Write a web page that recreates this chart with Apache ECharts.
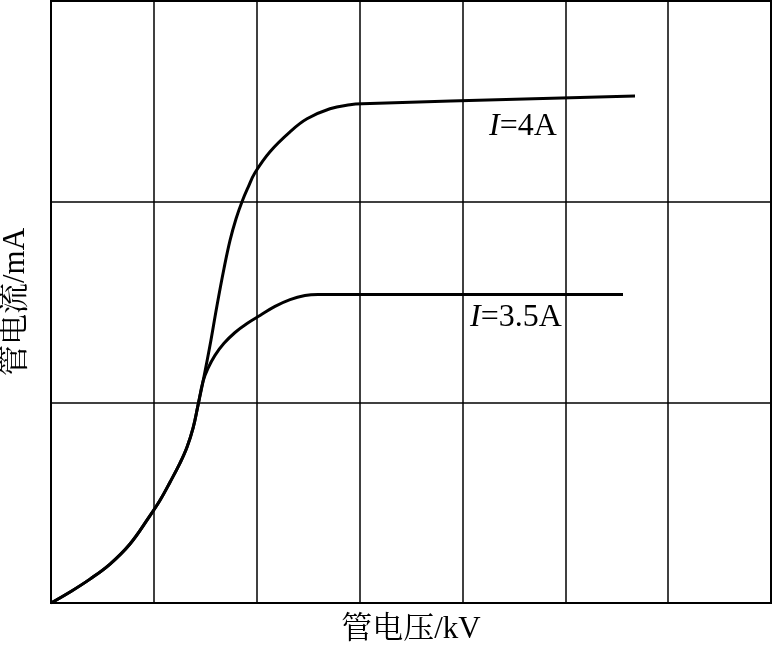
<!DOCTYPE html>
<html>
<head>
<meta charset="utf-8">
<script src="https://cdn.jsdelivr.net/npm/echarts@6/dist/echarts.min.js"></script>
<style>html,body{margin:0;padding:0;background:#fff;}#c{width:772px;height:646px;}</style>
</head>
<body>
<div id="c"></div>
<script>
// shared rising segment (both currents)
const sharedX = [0, 0.185, 0.379, 0.574, 0.768, 0.953, 1.060, 1.157, 1.254, 1.322, 1.381, 1.429, 1.478];
const sharedY = [0, 0.055, 0.119, 0.194, 0.294, 0.428, 0.512, 0.602, 0.697, 0.776, 0.871, 0.985, 1.104];
// I = 4A branch
const fourAX = [1.546, 1.614, 1.682, 1.740, 1.799, 1.857, 1.915, 1.983, 2.129, 2.324, 2.489, 2.712, 2.907, 3.024, 5.678];
const fourAY = [1.284, 1.483, 1.667, 1.806, 1.915, 2.000, 2.070, 2.144, 2.249, 2.348, 2.413, 2.463, 2.483, 2.488, 2.527];
// I = 3.5A branch
const threeHalfX = [1.526, 1.594, 1.682, 1.789, 1.906, 2.032, 2.178, 2.324, 2.469, 2.596, 5.561];
const threeHalfY = [1.169, 1.234, 1.294, 1.348, 1.393, 1.433, 1.478, 1.512, 1.532, 1.537, 1.537];

const xName = '管电压/kV';
const yName = '管电流/mA';

function pairs(xs, ys) { return xs.map((x, i) => [x, ys[i]]); }
const data4 = pairs(sharedX, sharedY).concat(pairs(fourAX, fourAY));
const data35 = pairs(sharedX, sharedY).concat(pairs(threeHalfX, threeHalfY));

const FONT = '"Liberation Serif", "Noto Serif CJK SC", "Noto Sans CJK SC", serif';

const chart = echarts.init(document.getElementById('c'), null, {renderer: 'canvas'});
chart.setOption({
  animation: false,
  backgroundColor: '#fff',
  grid: {left: 51, top: 1, right: 1, bottom: 43, containLabel: false, outerBoundsMode: 'none',
         show: true, borderColor: '#000', borderWidth: 2, backgroundColor: 'transparent'},
  xAxis: {
    type: 'value', min: 0, max: 7, interval: 1,
    name: xName, nameLocation: 'middle', nameGap: 11,
    nameTextStyle: {fontFamily: FONT, fontSize: 31, color: '#000', verticalAlign: 'top'},
    axisLine: {show: true, lineStyle: {color: '#000', width: 2}},
    axisTick: {show: false}, axisLabel: {show: false},
    splitLine: {show: true, lineStyle: {color: '#000', width: 1.5}}
  },
  yAxis: {
    type: 'value', min: 0, max: 3, interval: 1,
    name: yName, nameLocation: 'middle', nameGap: 20,
    nameTextStyle: {fontFamily: FONT, fontSize: 31, color: '#000'},
    axisLine: {show: true, lineStyle: {color: '#000', width: 2}},
    axisTick: {show: false}, axisLabel: {show: false},
    splitLine: {show: true, lineStyle: {color: '#000', width: 1.5}}
  },
  series: [
    {type: 'line', data: data4, showSymbol: false, smooth: 0.4,
     lineStyle: {color: '#000', width: 3}},
    {type: 'line', data: data35, showSymbol: false, smooth: 0.4,
     lineStyle: {color: '#000', width: 3}}
  ],
  graphic: [
    {type: 'text', x: 489, y: 111, style: {
      text: '{i|I}{n|=4A}', verticalAlign: 'top',
      rich: {i: {fontFamily: FONT, fontSize: 32, fontStyle: 'italic', fill: '#000'},
             n: {fontFamily: FONT, fontSize: 32, fill: '#000'}}}},
    {type: 'text', x: 470, y: 302, style: {
      text: '{i|I}{n|=3.5A}', verticalAlign: 'top',
      rich: {i: {fontFamily: FONT, fontSize: 32, fontStyle: 'italic', fill: '#000'},
             n: {fontFamily: FONT, fontSize: 32, fill: '#000'}}}}
  ]
});
</script>
</body>
</html>
